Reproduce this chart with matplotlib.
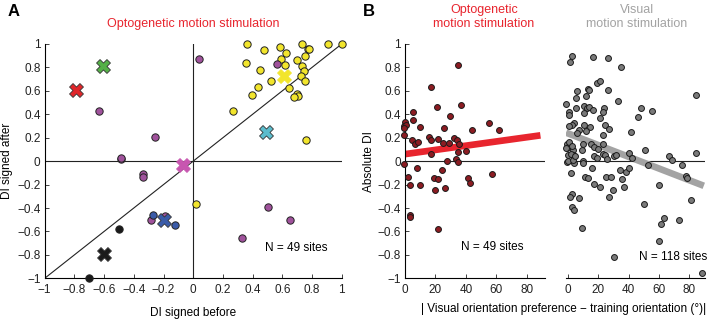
import matplotlib
matplotlib.use("Agg")
import matplotlib.pyplot as plt
import numpy as np

plt.rcParams['font.family'] = ['Liberation Sans', 'DejaVu Sans']
plt.rcParams['font.size'] = 8.5

# ---- panel A data (DI signed before / after) ----
yellow_x = [0.364, 0.355, 0.48, 0.451, 0.521, 0.586, 0.589, 0.624, 0.615, 0.696, 0.736, 0.77, 0.779,
            0.75, 0.736, 0.747, 0.723, 0.756, 0.905, 1.0, 0.435, 0.397, 0.646, 0.70, 0.707, 0.68,
            0.269, 0.759, 0.016]
yellow_y = [1.0, 0.836, 0.946, 0.776, 0.683, 0.972, 0.876, 0.921, 0.822, 0.861, 1.0, 0.96, 0.958,
            0.90, 0.808, 0.768, 0.726, 0.683, 1.0, 1.0, 0.632, 0.567, 0.624, 0.57, 0.56, 0.545,
            0.429, 0.18, -0.369]
purple_x = [0.04, 0.561, -0.631, -0.256, -0.489, -0.489, -0.337, -0.337, -0.287, -0.191, 0.505, 0.651, 0.33]
purple_y = [0.87, 0.83, 0.426, 0.202, 0.017, 0.03, -0.111, -0.134, -0.506, -0.469, -0.395, -0.506, -0.659]
blue_x = [-0.272, -0.121]
blue_y = [-0.457, -0.543]
black_x = [-0.5, -0.703]
black_y = [-0.58, -1.0]

# group means (X markers)
mean_x = [-0.792, -0.608, 0.492, 0.61, -0.072, -0.198, -0.602]
mean_y = [0.607, 0.813, 0.248, 0.73, -0.034, -0.506, -0.793]
mean_colors = ['#e0262a', '#55b047', '#5bbccc', '#f2e52c', '#c856b0', '#3a5ba8', '#1a1a1a']

# ---- panel B data ----
opto_x = [34.8, 16.8, 36.5, 21.0, 5.5, 29.3, 0.0, -0.5, 0.8, -0.8, -0.5, 5.3, 9.8, 25.3, 55.0, 61.6,
          44.0, 15.5, 17.4, 4.7, 6.8, 8.5, 21.9, 25.0, 28.7, 32.0, 34.4, 35.5, 17.2, 35.0, 39.9,
          33.5, 27.6, 34.8, -0.6, 8.0, 2.0, 3.2, 9.8, 19.3, 21.9, 24.6, 19.5, 26.3, 41.2, 42.9,
          57.0, 3.2, 3.2, 21.4]
opto_y = [0.82, 0.632, 0.48, 0.46, 0.42, 0.385, 0.33, 0.30, 0.31, 0.28, 0.22, 0.35, 0.295, 0.283, 0.326,
          0.263, 0.263, 0.207, 0.184, 0.178, 0.15, 0.164, 0.193, 0.156, 0.159, 0.2, 0.184, 0.15, 0.065,
          0.076, 0.088, 0.017, 0.0, -0.006, -0.028, -0.057, -0.133, -0.204, -0.204, -0.144, -0.156,
          -0.076, -0.249, -0.227, -0.147, -0.187, -0.113, -0.459, -0.476, -0.58]

vis_x = [2.4, 1.5, 16.4, 26.5, 35.1, 19.0, 20.8, 5.7, 13.0, 14.1, 26.3, 5.5, 11.7, -1.1, 5.1, 10.4,
         12.6, 13.7, 16.6, 23.6, 23.2, 33.1, 48.2, 55.2, 84.2, 0.9, 0.9, 10.4, 20.8, 46.4, 4.0, 2.4,
         0.7, 10.4, 14.8, 24.1, 27.0, 7.1, 6.2, 11.7, 41.8, 22.8, -0.4, 0.7, -0.7, 3.3, 10.2, 15.5,
         17.2, 22.8, 20.1, 50.8, 84.2, 40.4,
         1.0, 2.7, -1.3, 3.1, 4.2, -0.2, 9.3, 23.0, 24.3, 25.9, 30.3, 31.4, 42.4, 66.3, 68.5, -0.4,
         3.8, 9.7, 9.7, 53.0, 75.0, 17.2, 19.4, 1.8, 0.0, 3.5, 4.4,
         77.8, 78.2, 2.2, 11.0, 13.0, 16.1, 17.2, 21.2, 24.8, 28.3, 34.5, 38.5, 40.4, 35.8, 37.1,
         29.4, 26.9, 2.7, 1.1, 7.1, 2.4, 4.0, 9.1, 50.4, 59.7, 63.6, 61.0, 73.4, 81.3, 59.7, 30.5, 88.0]
vis_y = [0.898, 0.844, 0.887, 0.881, 0.805, 0.669, 0.683, 0.595, 0.612, 0.609, 0.609, 0.535, 0.555,
         0.49, 0.45, 0.473, 0.453, 0.459, 0.439, 0.453, 0.416, 0.51, 0.456, 0.431, 0.567, 0.416, 0.391,
         0.411, 0.371, 0.374, 0.326, 0.312, 0.297, 0.306, 0.289, 0.309, 0.272, 0.263, 0.241, 0.261,
         0.249, 0.221, 0.147, 0.133, 0.116, 0.096, 0.150, 0.150, 0.119, 0.144, 0.102, 0.099, 0.071, 0.068,
         0.16, 0.127, 0.113, 0.054, 0.048, 0.054, 0.093, 0.057, 0.054, 0.02, 0.048, 0.054, 0.028, 0.042,
         0.014, -0.008, -0.02, 0.0, -0.02, -0.034, -0.037, 0.042, 0.028, 0.057, 0.0, 0.006, 0.042,
         -0.127, -0.144, -0.1, -0.133, -0.147, -0.057, -0.198, -0.218, -0.133, -0.133, -0.079, -0.093,
         -0.062, -0.15, -0.221, -0.246, -0.306, -0.283, -0.306, -0.312, -0.391, -0.414, -0.572, -0.368,
         -0.207, -0.482, -0.538, -0.501, -0.334, -0.683, -0.822, -0.952]

# regression lines: (intercept, slope)
opto_fit = (0.06, 0.0018)
vis_fit = (0.237, -0.0050)

ab_ticks = np.round(np.arange(-1, 1.01, 0.2), 1)
ab_labels = ['0' if t == 0 else ('%g' % t).replace('-', '\u2212') for t in ab_ticks]

RED = '#e8252e'
GREY = '#a3a3a3'


def style_axis(ax):
    ax.spines['top'].set_visible(False)
    ax.spines['right'].set_visible(False)
    ax.tick_params(direction='in', length=3, width=0.6, pad=3, labelsize=8.5, colors='#222222')
    for s in ax.spines.values():
        s.set_linewidth(0.8)


fig = plt.figure(figsize=(7.08, 3.19), dpi=100)
W, H = 708.0, 319.0

# ---------------- panel A ----------------
axA = fig.add_axes([44.7 / W, 1 - 278.3 / H, (341.7 - 44.7) / W, (278.3 - 44) / H])
style_axis(axA)
axA.set_xlim(-1, 1)
axA.set_ylim(-1, 1)
axA.plot([-1, 1], [-1, 1], color='#222222', lw=0.8, zorder=1)
axA.plot([0, 0], [-1, 1], color='#222222', lw=0.8, zorder=1)
axA.plot([-1, 1], [0, 0], color='#222222', lw=0.8, zorder=1)
kw = dict(s=28, edgecolors='#222222', linewidths=0.7, zorder=3, clip_on=False)
axA.scatter(yellow_x, yellow_y, c='#f2e52c', **kw)
axA.scatter(purple_x, purple_y, c='#a0529c', **kw)
axA.scatter(blue_x, blue_y, c='#3a5ba8', **kw)
axA.scatter(black_x, black_y, c='#1a1a1a', **kw)
for mx, my, mc in zip(mean_x, mean_y, mean_colors):
    axA.scatter([mx], [my], marker='X', s=100, c=mc, edgecolors='#333333' if mc not in ('#f2e52c', '#c856b0') else mc,
                linewidths=0.6, zorder=4, clip_on=False)
axA.set_xticks(ab_ticks)
axA.set_xticklabels(ab_labels)
axA.set_yticks(ab_ticks)
axA.set_yticklabels(ab_labels)
axA.tick_params(axis='x', pad=4)
axA.set_xlabel('DI signed before', fontsize=8.5, labelpad=8)
axA.set_ylabel('DI signed after', fontsize=8.5, labelpad=3)
axA.text(0.483, -0.74, 'N = 49 sites', fontsize=8.5, va='center', ha='left')
fig.text(193 / W, 1 - 24 / H, 'Optogenetic motion stimulation', color=RED, fontsize=9,
         ha='center', va='center')
fig.text(8 / W, 1 - 12 / H, 'A', fontsize=12, fontweight='bold', ha='left', va='center')

# ---------------- panel B ----------------
axB1 = fig.add_axes([405 / W, 1 - 278.3 / H, (545 - 405) / W, (278.3 - 44) / H])
axB2 = fig.add_axes([566 / W, 1 - 278.3 / H, (705 - 566) / W, (278.3 - 44) / H])
style_axis(axB1)
style_axis(axB2)
axB2.spines['left'].set_visible(False)
axB2.tick_params(axis='y', left=False, labelleft=False)

axB1.set_xlim(0, 92)
axB2.set_xlim(-1.3, 90.3)
for ax in (axB1, axB2):
    ax.set_ylim(-1, 1)
    ax.set_xticks([0, 20, 40, 60, 80])
    ax.tick_params(axis='x', pad=4)
    ax.axhline(0, color='#222222', lw=0.8, zorder=1)

axB1.set_yticks(ab_ticks)
axB1.set_yticklabels(ab_labels)

xf = np.array([0, 89])
axB1.plot(xf, opto_fit[0] + opto_fit[1] * xf, color=RED, lw=4.8, solid_capstyle='butt', zorder=2)
xg = np.array([-1.3, 89.5])
axB2.plot(xg, vis_fit[0] + vis_fit[1] * xg, color=GREY, lw=4.8, solid_capstyle='butt', zorder=2)

axB1.scatter(opto_x, opto_y, s=18, c='#8c1c22', edgecolors='#1a1a1a', linewidths=0.7, zorder=3, clip_on=False)
axB2.scatter(vis_x, vis_y, s=18, c='#7a7a7a', edgecolors='#1a1a1a', linewidths=0.7, zorder=3, clip_on=False)

axB1.set_ylabel('Absolute DI', fontsize=8.5, labelpad=2)
axB1.text(37, -0.735, 'N = 49 sites', fontsize=8.5, va='center', ha='left')
axB2.text(47, -0.82, 'N = 118 sites', fontsize=8.5, va='center', ha='left', clip_on=False)

fig.text(484 / W, 1 - 17 / H, 'Optogenetic\nmotion stimulation', color=RED, fontsize=9,
         ha='center', va='center', linespacing=1.3)
fig.text(637 / W, 1 - 17 / H, 'Visual\nmotion stimulation', color=GREY, fontsize=9,
         ha='center', va='center', linespacing=1.3)
fig.text(564 / W, 1 - 309 / H, '| Visual orientation preference \u2212 training orientation (\u00b0)|',
         fontsize=8.5, ha='center', va='center')
fig.text(363 / W, 1 - 12 / H, 'B', fontsize=12, fontweight='bold', ha='left', va='center')

fig.savefig('out.png', dpi=100)
